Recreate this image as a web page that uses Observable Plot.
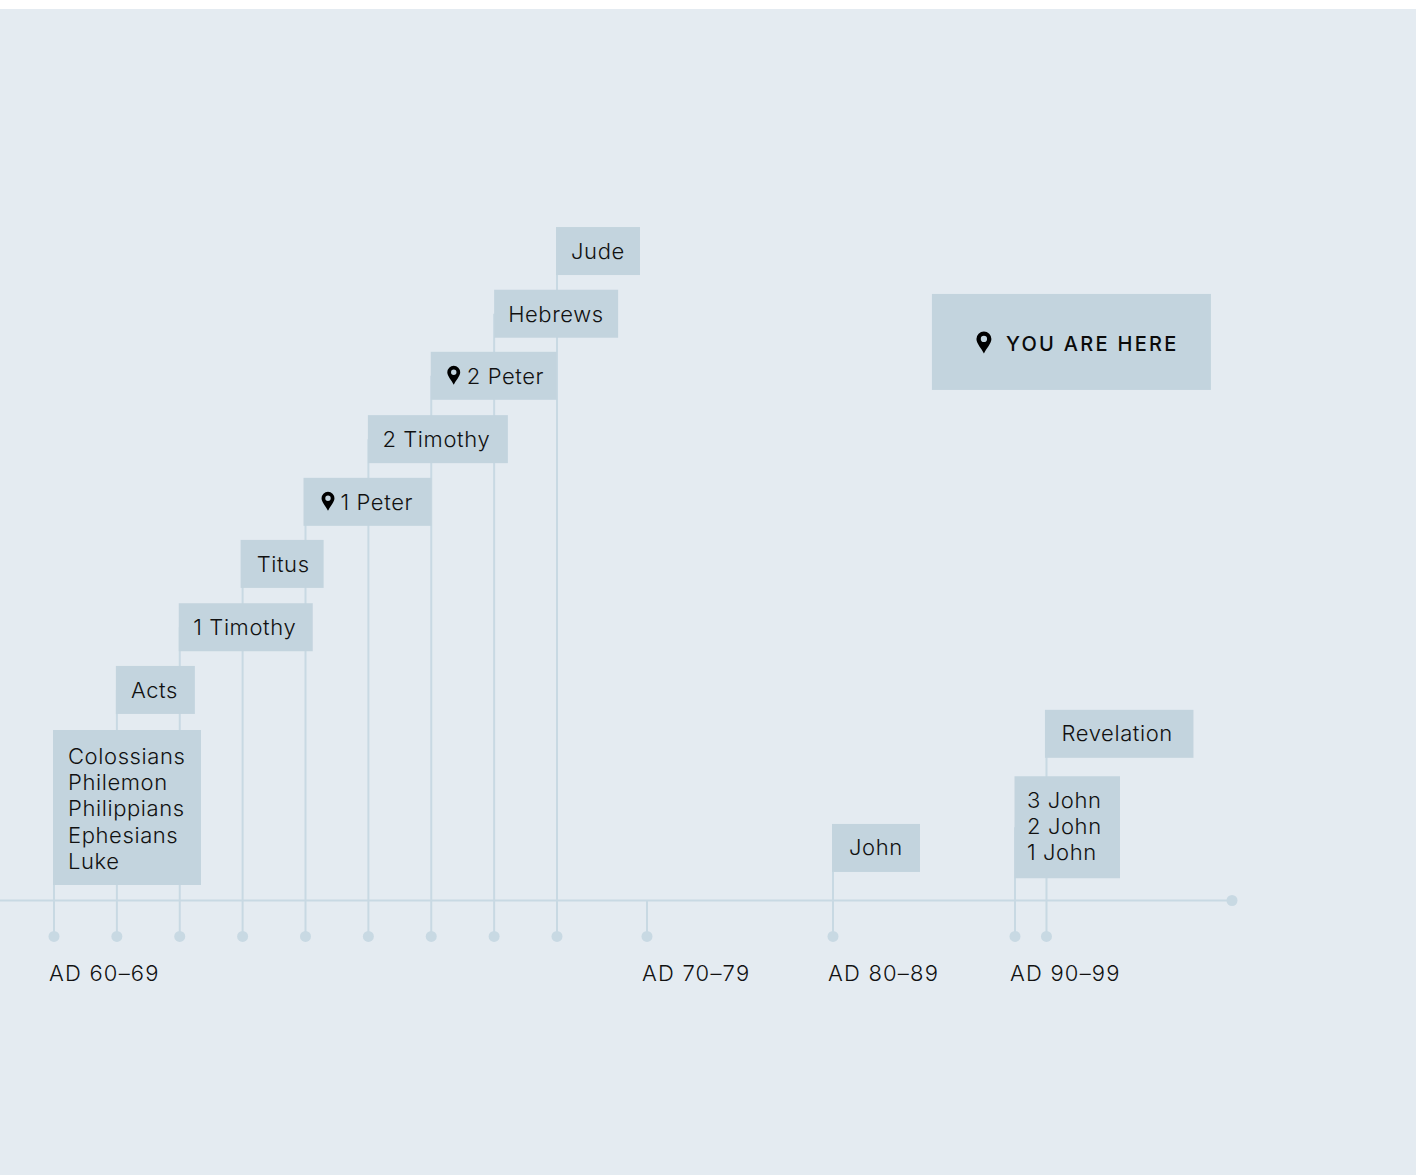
<!DOCTYPE html>
<html><head><meta charset="utf-8">
<script src="https://cdn.jsdelivr.net/npm/d3@7"></script>
<script src="https://cdn.jsdelivr.net/npm/@observablehq/plot@0.6"></script>
<style>html,body{margin:0;padding:0;background:#fff}body{padding-top:9px;overflow:hidden}svg{display:block}
.book text{letter-spacing:.6px}.tick text{letter-spacing:1.2px}.you text{letter-spacing:2.3px}</style>
</head><body><div id="chart"></div>
<script>
// Book groups, their estimated dates and stacking rows
const labels = ["Colossians\nPhilemon\nPhilippians\nEphesians\nLuke","Acts","1 Timothy","Titus","1 Peter","2 Timothy","2 Peter","Hebrews","Jude","John","3 John\n2 John\n1 John","Revelation"];
const years  = [60,61,62,63,64,65,66,67,68,80,90,91.45];
const rows   = [1.475,3.35,4.35,5.36,6.35,7.35,8.36,9.35,10.35,0.83,1.16,2.65];
const pinned = ["1 Peter","2 Peter"];
const tickYears  = [60,70,80,90];
const tickLabels = ["AD 60–69","AD 70–79","AD 80–89","AD 90–99"];
const bareYears  = [70];
const axisEndYear = 100;

// Presentation of the label boxes
const boxRight = [147.5,78.5,133.5,81.5,126.5,140,126,124.5,83.5,87.5,105.5,147.5];
const boxLeft  = [0.5,0.5,0.5,1.5,1.5,0,0,-0.5,0.5,0.5,0,1];
const boxTall  = [155,48,48,48,48,48,48,48,48,48,102,48];
const textDx   = [14,14,13.5,14,35,14,35.5,14,14,16,12,15];
const textDy   = [0,-1,-1,-1,-1,-1,-1,-1,-1,-2,-2,-2];

const bg="#e4ebf1", boxFill="#c3d4de", lineCol="#c8d9e3", ink="#111";
const font="Inter, sans-serif";
const books = labels.map((label,i)=>({label,year:years[i],row:rows[i],right:boxRight[i],left:boxLeft[i],tall:boxTall[i],dx:textDx[i],dy:textDy[i]}));
const stems = [...books,...bareYears.map(year=>({year,row:0}))];
const dotRow=-0.574, tickRow=-1.165;
const pin={draw(c,size){const r=Math.sqrt(size/Math.PI);const w=r*0.68,cy=-r+w;
  c.moveTo(0,r);
  c.bezierCurveTo(-w*0.3,r*0.55,-w,r*0.1,-w,cy);
  c.arc(0,cy,w,Math.PI,0,false);
  c.bezierCurveTo(w,r*0.1,w*0.3,r*0.55,0,r);
  c.closePath();
  const h=w*0.42;c.moveTo(h,cy);c.arc(0,cy,h,0,-2*Math.PI,true);c.closePath();}};
const youX=92.6, youRow=8.9;

const plot=Plot.plot({
  width:1416,height:1166,margin:0,
  style:{background:bg,fontFamily:font},
  x:{type:"linear",domain:[59,60,68,70,80,90,100],range:[-0.5,53.5,556.5,646.5,832.5,1014.5,1231.5],axis:null},
  y:{type:"linear",domain:[-4.386,14.21],range:[1166,0],axis:null},
  marks:[
    Plot.ruleY([0],{x1:59,x2:axisEndYear,stroke:lineCol,strokeWidth:2}),
    Plot.ruleX(stems,{x:"year",y1:dotRow,y2:"row",stroke:lineCol,strokeWidth:2}),
    Plot.dot(stems,{x:"year",y:dotRow,r:5.5,fill:lineCol}),
    Plot.dot([axisEndYear],{x:d=>d,y:0,r:5.5,fill:lineCol}),
    ...books.map(b=>Plot.rect([b],{x1:"year",x2:"year",y1:"row",y2:"row",fill:boxFill,
      insetLeft:-b.left,insetRight:-b.right,insetTop:-b.tall/2,insetBottom:-b.tall/2})),
    ...books.map(b=>Plot.text([b],{x:"year",y:"row",text:"label",dx:b.dx,dy:b.dy,textAnchor:"start",lineAnchor:"middle",lineHeight:1.19,fontSize:22,fontWeight:350,fill:ink,className:"book"})),
    Plot.dot(books.filter(b=>pinned.includes(b.label)),{x:"year",y:"row",dx:22.5,dy:-1,r:9.5,symbol:pin,fill:"#000"}),
    Plot.text(tickYears,{x:d=>d,y:tickRow,text:(d,i)=>tickLabels[i],dx:-5,textAnchor:"start",fontSize:22,fontWeight:350,fill:ink,className:"tick"}),
    Plot.rect([youX],{x1:d=>d,x2:d=>d,y1:youRow,y2:youRow,fill:boxFill,insetLeft:-139,insetRight:-140,insetTop:-48,insetBottom:-48}),
    Plot.dot([youX],{x:d=>d,y:youRow,dx:-87.5,dy:0,r:11,symbol:pin,fill:"#000"}),
    Plot.text(["YOU ARE HERE"],{x:youX,y:youRow,text:d=>d,dx:-65.5,dy:2,textAnchor:"start",fontSize:20,fontWeight:500,fill:"#0a0a0a",className:"you"})
  ]
});
document.getElementById("chart").append(plot);
</script></body></html>
